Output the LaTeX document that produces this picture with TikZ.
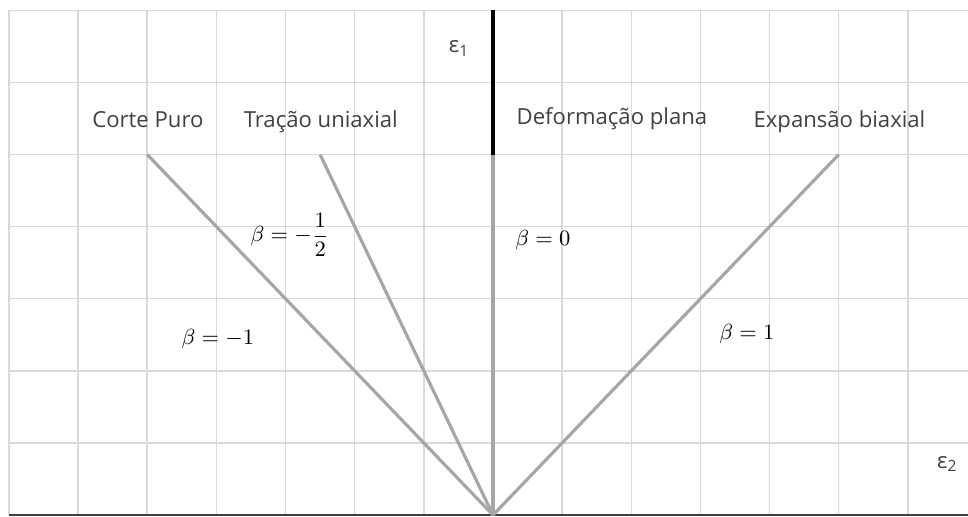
\documentclass[tikz,border=0pt]{standalone}
\usepackage[no-math]{fontspec}
\setmainfont{Open Sans}
\usepackage{tkz-euclide}
\definecolor{gradecinza}{HTML}{D9D9D9}
\definecolor{linhacinza}{HTML}{A6A6A6}
\definecolor{textocinza}{HTML}{404040}
\tikzset{
  grade/.style={draw=gradecinza, line width=0.6pt},
  trajeto/.style={draw=linhacinza, line width=1.3pt},
  modo/.style={font=\fontsize{9.1}{11}\selectfont, text=textocinza, inner sep=0pt, anchor=base},
  rotulo/.style={font=\fontsize{9.3}{11}\selectfont, inner sep=0pt, anchor=base}
}
\begin{document}
\begin{tikzpicture}[x=1cm,y=1.0427cm]
        \useasboundingbox (-7.129,-0.014) rectangle (6.869,7.143);
        \foreach \i in {-7,...,6}{%
            \draw[grade] (\i,0) -- (\i,7);}
        \foreach \j in {1,...,7}{%
            \draw[grade] (-7,\j) -- (6.869,\j);}
        \tkzDefPoint(0,0){O}
        \tkzDefPoint(-5,5){A}
        \tkzDefPoint(-2.5,5){B}
        \tkzDefPoint(0,5){C}
        \tkzDefPoint(5,5){D}
        \tkzDefPoint(0,7){E}
        \tkzDefPoint(-7,0){L}
        \tkzDefPoint(6.869,0){R}
        % eixos
        \draw[textocinza, line width=0.9pt] (L) -- (R);
        \draw[black, line width=1.6pt] (C) -- (E);
        \draw[trajeto] (O) -- (A);
        \draw[trajeto] (O) -- (B);
        \draw[trajeto] (O) -- (C);
        \draw[trajeto] (O) -- (D);
        \node[modo] (e1) at (-0.49,6.41) {ε\textsubscript{1}};
        \node[modo] (e2) at (6.57,0.65) {ε\textsubscript{2}};
        \node[modo] (cp) at (-4.99,5.38) {Corte Puro};
        \node[modo] (tu) at (-2.49,5.38) {Tração uniaxial};
        \node[modo] (dp) at (1.72,5.41) {Deformação plana};
        \node[modo] (eb) at (5.01,5.38) {Expansão biaxial};
        \node[rotulo] (bm1) at (-3.98,2.36) {$\beta = -1$};
        \node[rotulo] (bmm) at (-2.94,3.79) {$\displaystyle\beta = -\frac{1}{2}$};
        \node[rotulo] (b0) at (0.72,3.74) {$\beta = 0$};
        \node[rotulo] (b1) at (3.67,2.44) {$\beta = 1$};
\end{tikzpicture}
\end{document}
